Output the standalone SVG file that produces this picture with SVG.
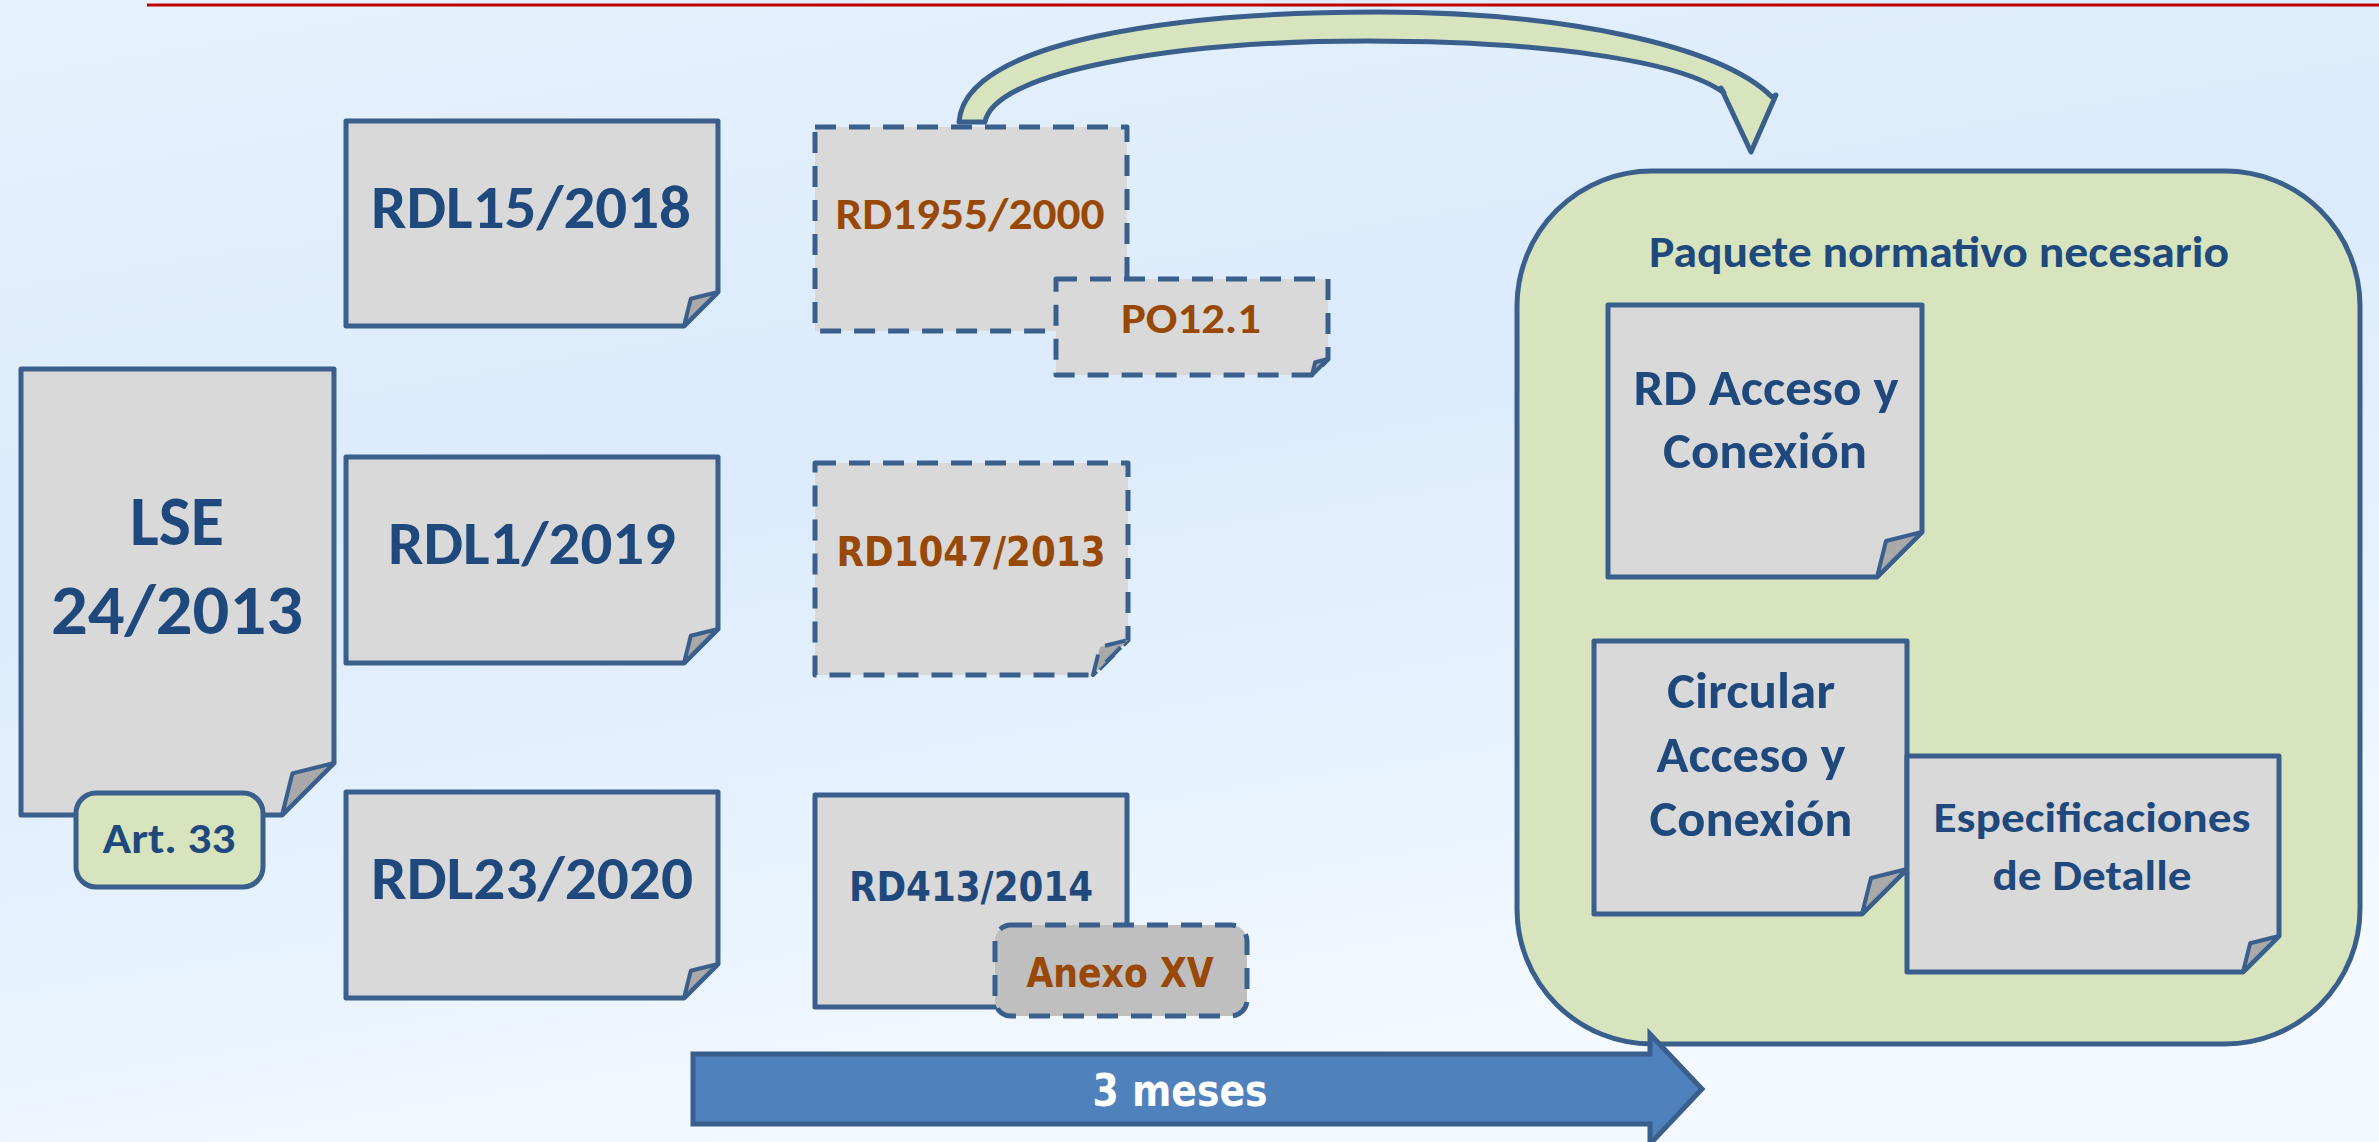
<svg xmlns="http://www.w3.org/2000/svg" width="2379" height="1142" viewBox="0 0 2379 1142">
<defs>
<linearGradient id="bg" x1="0" y1="0" x2="0.35" y2="1">
<stop offset="0" stop-color="#e6f2fd"/>
<stop offset="0.45" stop-color="#dbebfc"/>
<stop offset="0.8" stop-color="#e8f3fe"/>
<stop offset="1" stop-color="#f4f9ff"/>
</linearGradient>
<style>
.doc{fill:#d9d9d9;stroke:#3a5f8c;stroke-width:5;stroke-linejoin:round}
.dash{stroke-dasharray:21 13}
.fold{fill:#a9a9a9;stroke:#3a5f8c;stroke-width:4;stroke-linejoin:round}
.c{font-family:Carlito,'Liberation Sans Narrow','Liberation Sans',sans-serif;font-weight:bold;text-anchor:middle;fill:#1f497d}
.v{font-family:'DejaVu Sans',Verdana,sans-serif;font-weight:bold;text-anchor:middle;fill:#1f497d}
.o{fill:#984807}
</style>
</defs>
<rect width="2379" height="1142" fill="url(#bg)"/>
<line x1="147" y1="5" x2="2379" y2="5" stroke="#c00000" stroke-width="3"/>

<g id="paquete">
<rect x="1517" y="171" width="843" height="873" rx="135" ry="135" fill="#d7e4bd" stroke="#3a5f8c" stroke-width="5"/>
<text class="c" x="1939" y="267" font-size="44" textLength="580" lengthAdjust="spacingAndGlyphs">Paquete normativo necesario</text>
</g>

<g id="rdl15">
<path class="doc" d="M346,121 H718 V292 L684,326 H346 Z"/>
<path class="fold" d="M684,326 L690.8,298.8 L718,292 Z"/>
<text class="c" x="531" y="228" font-size="61" textLength="320" lengthAdjust="spacingAndGlyphs">RDL15/2018</text>
</g>
<g id="rdl1">
<path class="doc" d="M346,457 H718 V629 L684,663 H346 Z"/>
<path class="fold" d="M684,663 L690.8,635.8 L718,629 Z"/>
<text class="c" x="532" y="564" font-size="61" textLength="288" lengthAdjust="spacingAndGlyphs">RDL1/2019</text>
</g>
<g id="rdl23">
<path class="doc" d="M346,792 H718 V964 L684,998 H346 Z"/>
<path class="fold" d="M684,998 L690.8,970.8 L718,964 Z"/>
<text class="c" x="532" y="899" font-size="61" textLength="322" lengthAdjust="spacingAndGlyphs">RDL23/2020</text>
</g>
<g id="lse">
<path class="doc" d="M21,369 H334 V763 L282,815 H21 Z"/>
<path class="fold" d="M282,815 L292.4,773.4 L334,763 Z"/>
<text class="c" x="177" y="545" font-size="70" textLength="94" lengthAdjust="spacingAndGlyphs">LSE</text>
<text class="c" x="177" y="634" font-size="70" textLength="252" lengthAdjust="spacingAndGlyphs">24/2013</text>
</g>
<g id="art33">
<rect x="76" y="793" width="187" height="94" rx="20" fill="#d7e4bd" stroke="#3a5f8c" stroke-width="5"/>
<text class="c" x="169" y="853" font-size="43" textLength="133" lengthAdjust="spacingAndGlyphs">Art. 33</text>
</g>
<g id="rd1955">
<path class="doc dash" d="M815,127 H1127 V297 L1093,331 H815 Z"/>
<text class="c o" x="970" y="229" font-size="44" textLength="269" lengthAdjust="spacingAndGlyphs">RD1955/2000</text>
</g>
<g id="po121">
<path class="doc dash" d="M1056,279 H1328 V359 L1312,375 H1056 Z"/>
<path class="fold" d="M1312,375 L1315.2,362.2 L1328,359 Z"/>
<text class="c o" x="1191" y="333" font-size="43" textLength="140" lengthAdjust="spacingAndGlyphs">PO12.1</text>
</g>
<g id="rd1047">
<path class="doc dash" d="M815,463 H1128 V640 L1093,675 H815 Z"/>
<path class="fold dash" d="M1093,675 L1100,647 L1128,640 Z"/>
<text class="v o" x="971" y="566" font-size="40" textLength="269" lengthAdjust="spacingAndGlyphs">RD1047/2013</text>
</g>
<g id="rd413">
<path class="doc" d="M815,795 H1127 V972 L1092,1007 H815 Z"/>
<text class="v" x="971" y="901" font-size="40" textLength="244" lengthAdjust="spacingAndGlyphs">RD413/2014</text>
</g>
<g id="anexo">
<rect class="dash" x="995" y="925" width="252" height="91" rx="16" fill="#bfbfbf" stroke="#3a5f8c" stroke-width="5"/>
<text class="v o" x="1120" y="987" font-size="41" textLength="187" lengthAdjust="spacingAndGlyphs">Anexo XV</text>
</g>
<g id="rdacceso">
<path class="doc" d="M1608,305 H1922 V532 L1877,577 H1608 Z"/>
<path class="fold" d="M1877,577 L1886,541 L1922,532 Z"/>
<text class="c" x="1766" y="405" font-size="50" textLength="265" lengthAdjust="spacingAndGlyphs">RD Acceso y</text>
<text class="c" x="1765" y="468" font-size="50" textLength="204" lengthAdjust="spacingAndGlyphs">Conexión</text>
</g>
<g id="circular">
<path class="doc" d="M1594,641 H1907 V869 L1862,914 H1594 Z"/>
<path class="fold" d="M1862,914 L1871,878 L1907,869 Z"/>
<text class="c" x="1751" y="708" font-size="50" textLength="168" lengthAdjust="spacingAndGlyphs">Circular</text>
<text class="c" x="1751" y="772" font-size="50" textLength="189" lengthAdjust="spacingAndGlyphs">Acceso y</text>
<text class="c" x="1751" y="836" font-size="50" textLength="203" lengthAdjust="spacingAndGlyphs">Conexión</text>
</g>
<g id="especificaciones">
<path class="doc" d="M1907,756 H2279 V936 L2243,972 H1907 Z"/>
<path class="fold" d="M2243,972 L2250.2,943.2 L2279,936 Z"/>
<text class="c" x="2092" y="832" font-size="42" textLength="317" lengthAdjust="spacingAndGlyphs">Especificaciones</text>
<text class="c" x="2092" y="890" font-size="42" textLength="199" lengthAdjust="spacingAndGlyphs">de Detalle</text>
</g>

<g id="connectors">
<path d="M959,122 C965,40 1180,12 1379,12 C1560,12 1720,45 1772,97 L1776,95 L1751,152 L1721,88 L1724,93 C1680,60 1540,41 1367,41 C1180,41 995,70 985,122 Z" fill="#d7e4bd" stroke="#3a5f8c" stroke-width="5" stroke-linejoin="round"/>
<path d="M693,1054 H1650 V1034 L1702,1089 L1650,1144 V1124 H693 Z" fill="#4f81bd" stroke="#3a5f8c" stroke-width="5"/>
<text class="v" x="1180" y="1106" font-size="44" style="fill:#ffffff" textLength="175" lengthAdjust="spacingAndGlyphs">3 meses</text>
</g>
</svg>
